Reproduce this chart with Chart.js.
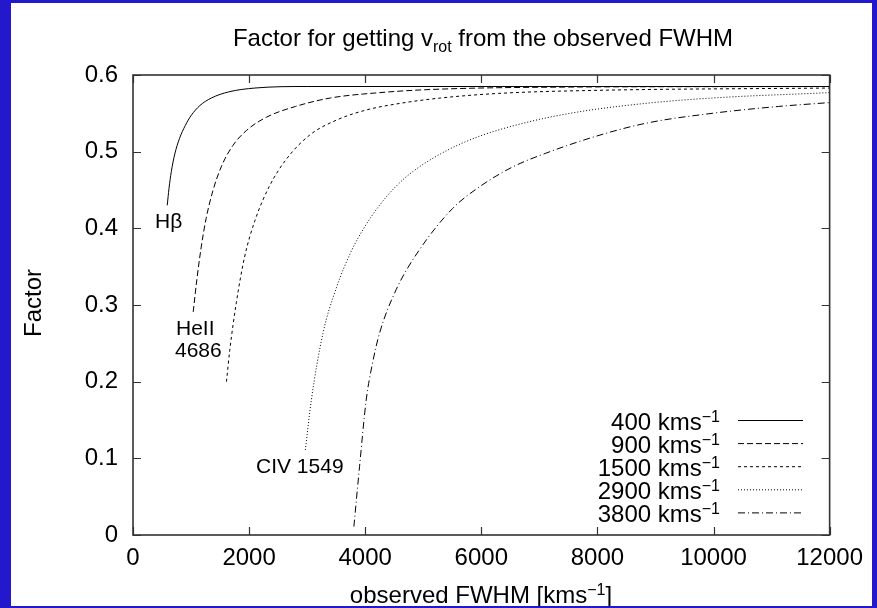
<!DOCTYPE html>
<html>
<head>
<meta charset="utf-8">
<script src="https://cdn.jsdelivr.net/npm/chart.js@4/dist/chart.umd.min.js"></script>
<style>
  html, body { margin: 0; padding: 0; width: 877px; height: 608px; overflow: hidden; background: #2418cc; }
  #frame { position: absolute; left: 11px; top: 3px; width: 861px; height: 603px; background: #fff; }
  canvas { display: block; }
</style>
</head>
<body>
<div id="frame"><canvas id="c" width="861" height="603"></canvas></div>
<script>
// Axis ticks
const xTicks = [0, 2000, 4000, 6000, 8000, 10000, 12000];
const yTicks = [0, 0.1, 0.2, 0.3, 0.4, 0.5, 0.6];

// Intrinsic widths labelling the curves (km/s)
const lineWidths = [400, 900, 1500, 2900, 3800];

// Conversion factor vs observed FWHM, one curve per intrinsic width
const fwhm400   = [590, 620, 660, 720, 800, 900, 1000, 1150, 1350, 1650, 2100, 3000, 12000];
const factor400 = [0.430, 0.452, 0.474, 0.497, 0.517, 0.534, 0.547, 0.560, 0.570, 0.578, 0.583, 0.585, 0.585];

const fwhm900   = [1037, 1100, 1170, 1260, 1380, 1530, 1720, 1960, 2300, 2800, 3400, 4250, 5100, 7000, 12000];
const factor900 = [0.291, 0.333, 0.373, 0.413, 0.450, 0.482, 0.508, 0.528, 0.545, 0.559, 0.570, 0.577, 0.581, 0.584, 0.585];

const fwhm1500   = [1610, 1667, 1780, 1920, 2100, 2350, 2650, 3050, 3500, 4000, 4600, 5300, 6300, 8000, 12000];
const factor1500 = [0.200, 0.241, 0.303, 0.362, 0.410, 0.455, 0.491, 0.522, 0.541, 0.554, 0.563, 0.570, 0.576, 0.580, 0.583];

const fwhm2900   = [2969, 3072, 3272, 3501, 3759, 3959, 4246, 4533, 4819, 5393, 5965, 6825, 7684, 8831, 9976, 12000];
const factor2900 = [0.111, 0.176, 0.263, 0.322, 0.370, 0.398, 0.430, 0.455, 0.474, 0.501, 0.520, 0.539, 0.552, 0.563, 0.570, 0.577];

const fwhm3800   = [3805, 3902, 4017, 4120, 4246, 4533, 4934, 5507, 5965, 6538, 7112, 7971, 8831, 9976, 11123, 12000];
const factor3800 = [0.011, 0.089, 0.176, 0.222, 0.263, 0.320, 0.372, 0.426, 0.454, 0.480, 0.498, 0.520, 0.537, 0.550, 0.559, 0.564];

const curves = [
  { xs: fwhm400,  ys: factor400,  dash: [] },
  { xs: fwhm900,  ys: factor900,  dash: [6, 3] },
  { xs: fwhm1500, ys: factor1500, dash: [3, 3] },
  { xs: fwhm2900, ys: factor2900, dash: [1, 2] },
  { xs: fwhm3800, ys: factor3800, dash: [7, 3, 1, 3] }
];

const FONT = '"Liberation Sans", Arial, Helvetica, sans-serif';
const FS = 24;      // ticks, titles, key
const FS_NOTE = 21; // labels beside the curves
const FS_SMALL = 16; // super- and subscripts

// Draws a run of text pieces where some pieces are super- or subscripts
function richText(ctx, parts, x, y, align, size) {
  const sizeOf = p => p.mode ? FS_SMALL : size;
  let total = 0;
  parts.forEach(p => { ctx.font = sizeOf(p) + 'px ' + FONT; total += ctx.measureText(p.t).width; });
  let cx = align === 'center' ? x - total / 2 : align === 'right' ? x - total : x;
  ctx.textAlign = 'left';
  ctx.textBaseline = 'alphabetic';
  parts.forEach(p => {
    ctx.font = sizeOf(p) + 'px ' + FONT;
    const dy = p.mode === 'sup' ? -8.5 : p.mode === 'sub' ? 5.7 : 0;
    ctx.fillText(p.t, cx, y + dy);
    cx += ctx.measureText(p.t).width;
  });
}

const decorations = {
  id: 'decorations',
  afterDraw(chart) {
    const { ctx, chartArea: a, scales: { x, y } } = chart;
    ctx.save();

    // Frame and inward tick marks on all four sides
    ctx.strokeStyle = '#333';
    ctx.lineWidth = 1.2;
    ctx.beginPath();
    xTicks.forEach(v => {
      const px = Math.round(x.getPixelForValue(v)) + 0.5;
      ctx.moveTo(px, a.bottom); ctx.lineTo(px, a.bottom - 8);
      ctx.moveTo(px, a.top);    ctx.lineTo(px, a.top + 8);
    });
    yTicks.forEach(v => {
      const py = Math.round(y.getPixelForValue(v)) + 0.5;
      ctx.moveTo(a.left, py);  ctx.lineTo(a.left + 8, py);
      ctx.moveTo(a.right, py); ctx.lineTo(a.right - 8, py);
    });
    ctx.stroke();
    ctx.lineWidth = 1.6;
    ctx.strokeRect(a.left, a.top, a.right - a.left, a.bottom - a.top);

    ctx.fillStyle = '#000';

    // Title
    richText(ctx, [
      { t: 'Factor for getting v' }, { t: 'rot', mode: 'sub' }, { t: ' from the observed FWHM' }
    ], 472, 43, 'center', FS);

    // Axis titles
    richText(ctx, [
      { t: 'observed FWHM [kms' }, { t: '\u22121', mode: 'sup' }, { t: ']' }
    ], 470, 600, 'center', FS);
    ctx.save();
    ctx.translate(23, 300);
    ctx.rotate(-Math.PI / 2);
    ctx.font = FS + 'px ' + FONT;
    ctx.textAlign = 'center';
    ctx.textBaseline = 'middle';
    ctx.fillText('Factor', 0, 0);
    ctx.restore();

    // Curve annotations
    richText(ctx, [{ t: 'H\u03b2' }], 144, 225, 'left', FS_NOTE);
    richText(ctx, [{ t: 'HeII' }], 165, 332, 'left', FS_NOTE);
    richText(ctx, [{ t: '4686' }], 164, 354, 'left', FS_NOTE);
    richText(ctx, [{ t: 'CIV 1549' }], 245, 470, 'left', FS_NOTE);

    // Key
    chart.data.datasets.forEach((ds, i) => {
      const base = 427 + i * 23.1;
      richText(ctx, [{ t: lineWidths[i] + ' kms' }, { t: '\u22121', mode: 'sup' }], 709, base, 'right', FS);
      ctx.strokeStyle = '#000';
      ctx.lineWidth = 1;
      ctx.setLineDash(ds.borderDash);
      ctx.beginPath();
      ctx.moveTo(727, base - 9.5);
      ctx.lineTo(792, base - 9.5);
      ctx.stroke();
      ctx.setLineDash([]);
    });

    ctx.restore();
  }
};

new Chart(document.getElementById('c'), {
  type: 'line',
  data: {
    datasets: curves.map((c, i) => ({
      label: lineWidths[i] + ' kms-1',
      data: c.xs.map((v, k) => ({ x: v, y: c.ys[k] })),
      borderColor: '#000',
      borderWidth: 1,
      borderDash: c.dash,
      pointRadius: 0,
      fill: false,
      cubicInterpolationMode: 'monotone'
    }))
  },
  options: {
    responsive: false,
    animation: false,
    devicePixelRatio: 1,
    layout: { padding: { top: 72, right: 40, left: 0, bottom: 0 } },
    plugins: { legend: { display: false }, tooltip: { enabled: false }, title: { display: false } },
    scales: {
      x: {
        type: 'linear', min: 0, max: 12000,
        afterBuildTicks: s => { s.ticks = xTicks.map(v => ({ value: v })); },
        ticks: { font: { family: FONT, size: FS }, color: '#000', padding: 9, maxRotation: 0, callback: v => String(v) },
        grid: { display: false, drawTicks: false },
        border: { display: false },
        afterFit: s => { s.height = 71; }
      },
      y: {
        type: 'linear', min: 0, max: 0.6,
        afterBuildTicks: s => { s.ticks = yTicks.map(v => ({ value: v })); },
        ticks: { font: { family: FONT, size: FS }, color: '#000', padding: 15, callback: v => String(+v.toFixed(1)) },
        grid: { display: false, drawTicks: false },
        border: { display: false },
        afterFit: s => { s.width = 122; }
      }
    }
  },
  plugins: [decorations]
});
</script>
</body>
</html>
